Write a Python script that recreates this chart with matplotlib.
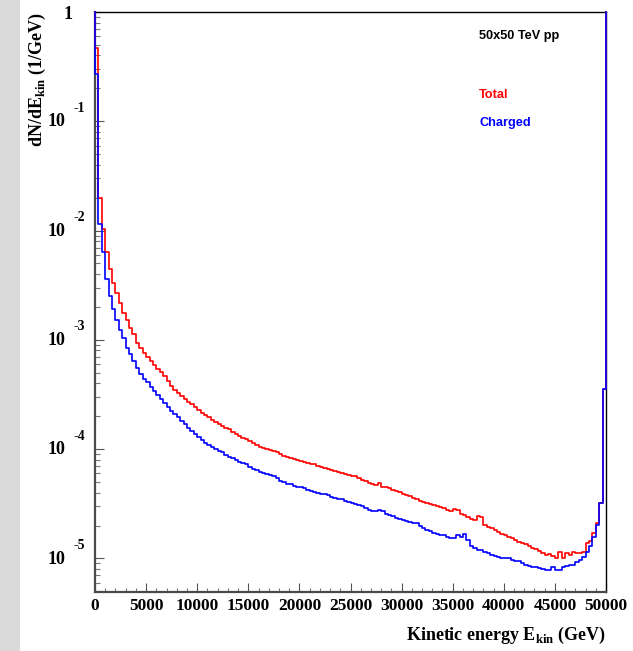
import matplotlib
matplotlib.use("Agg")
import matplotlib.pyplot as plt
import numpy as np
from matplotlib.patches import Rectangle
from matplotlib.ticker import FixedLocator, NullFormatter

plt.rcParams['mathtext.fontset'] = 'custom'
plt.rcParams['mathtext.bf'] = 'Liberation Serif:bold'
plt.rcParams['mathtext.rm'] = 'Liberation Serif:bold'

# 150 bins from 0 to 50000 GeV, values given as log10(dN/dE)
e_min, e_max, n_bins = 0.0, 50000.0, 150
total_log10 = [
    -0.33, -1.70, -1.99, -2.20, -2.35, -2.48, -2.57, -2.66, -2.75, -2.82,
    -2.89, -2.95, -3.03, -3.07, -3.12, -3.16, -3.19, -3.23, -3.27, -3.29,
    -3.33, -3.38, -3.42, -3.46, -3.49, -3.51, -3.54, -3.57, -3.59, -3.61,
    -3.64, -3.67, -3.69, -3.71, -3.73, -3.75, -3.77, -3.79, -3.81, -3.82,
    -3.84, -3.86, -3.88, -3.90, -3.91, -3.93, -3.94, -3.96, -3.98, -3.99,
    -4.00, -4.01, -4.02, -4.03, -4.04, -4.06, -4.07, -4.08, -4.09, -4.10,
    -4.11, -4.12, -4.13, -4.14, -4.14, -4.15, -4.16, -4.17, -4.18, -4.19,
    -4.20, -4.21, -4.22, -4.23, -4.24, -4.25, -4.25, -4.26, -4.28, -4.29,
    -4.31, -4.32, -4.33, -4.31, -4.35, -4.35, -4.36, -4.37, -4.38, -4.39,
    -4.41, -4.42, -4.43, -4.45, -4.46, -4.47, -4.48, -4.49, -4.50, -4.51,
    -4.52, -4.53, -4.54, -4.56, -4.57, -4.55, -4.56, -4.59, -4.60, -4.62,
    -4.64, -4.65, -4.61, -4.62, -4.69, -4.71, -4.72, -4.74, -4.76, -4.78,
    -4.79, -4.80, -4.81, -4.83, -4.85, -4.86, -4.87, -4.89, -4.90, -4.91,
    -4.93, -4.95, -4.97, -4.96, -4.98, -5.00, -4.94, -5.00, -4.95, -4.97,
    -4.94, -4.95, -4.95, -4.94, -4.86, -4.84, -4.77, -4.68, -4.49, -3.45,
]
charged_log10 = [
    -0.57, -1.94, -2.20, -2.44, -2.60, -2.72, -2.82, -2.91, -2.98, -3.07,
    -3.13, -3.19, -3.26, -3.31, -3.36, -3.39, -3.43, -3.47, -3.50, -3.54,
    -3.58, -3.61, -3.65, -3.68, -3.71, -3.74, -3.77, -3.81, -3.83, -3.86,
    -3.89, -3.92, -3.94, -3.96, -3.98, -4.00, -4.02, -4.03, -4.05, -4.07,
    -4.08, -4.10, -4.12, -4.13, -4.14, -4.16, -4.18, -4.19, -4.21, -4.22,
    -4.23, -4.24, -4.25, -4.26, -4.29, -4.30, -4.32, -4.32, -4.34, -4.35,
    -4.35, -4.36, -4.37, -4.38, -4.39, -4.40, -4.41, -4.41, -4.42, -4.44,
    -4.45, -4.46, -4.46, -4.47, -4.48, -4.49, -4.50, -4.51, -4.52, -4.54,
    -4.56, -4.57, -4.57, -4.56, -4.57, -4.59, -4.60, -4.61, -4.63, -4.64,
    -4.65, -4.66, -4.67, -4.68, -4.68, -4.70, -4.72, -4.74, -4.75, -4.77,
    -4.78, -4.79, -4.79, -4.80, -4.81, -4.81, -4.79, -4.80, -4.78, -4.83,
    -4.89, -4.90, -4.92, -4.92, -4.94, -4.95, -4.97, -4.98, -4.99, -5.00,
    -5.00, -5.00, -5.01, -5.02, -5.02, -5.04, -5.06, -5.07, -5.08, -5.08,
    -5.09, -5.10, -5.11, -5.11, -5.08, -5.11, -5.11, -5.08, -5.07, -5.06,
    -5.06, -5.03, -5.01, -4.99, -4.94, -4.89, -4.80, -4.69, -4.49, -3.45,
]
x_ticks = [0, 5000, 10000, 15000, 20000, 25000, 30000, 35000, 40000, 45000, 50000]
y_decades = [-1, -2, -3, -4, -5]
y_lim = (4.93e-6, 1.0)

serif = 'Liberation Serif'
sans = 'Liberation Sans'

fig = plt.figure(figsize=(6.33, 6.51), dpi=100)
fig.patches.append(Rectangle((0, 0), 20 / 633, 1, transform=fig.transFigure,
                             facecolor='#dadada', edgecolor='none', zorder=0))
ax = fig.add_axes([95 / 633, 1 - 592 / 651, 511 / 633, 580 / 651])

edges = np.linspace(e_min, e_max, n_bins + 1)


def outline(logvals):
    # ROOT-like histogram outline, open ends drawn up to the frame top
    vals = 10.0 ** np.asarray(logvals)
    xs = np.repeat(edges, 2)
    ys = np.concatenate([[y_lim[1]], np.repeat(vals, 2), [y_lim[1]]])
    return xs, ys


xs, ys = outline(total_log10)
ax.plot(xs, ys, color='#ff0000', lw=1.2, zorder=3, clip_on=False)
xs, ys = outline(charged_log10)
ax.plot(xs, ys, color='#0000ff', lw=1.2, zorder=3, clip_on=False)

ax.set_yscale('log')
ax.set_xlim(e_min, e_max)
ax.set_ylim(*y_lim)

for side in ('left', 'bottom'):
    ax.spines[side].set_color('#4a4a4a')
    ax.spines[side].set_linewidth(1.6)
for side in ('top', 'right'):
    ax.spines[side].set_color('black')
    ax.spines[side].set_linewidth(1.0)

ax.xaxis.set_major_locator(FixedLocator(x_ticks))
ax.xaxis.set_minor_locator(FixedLocator(np.arange(0, 50001, 1000)))
ax.set_xticklabels([str(t) for t in x_ticks], fontfamily=serif,
                   fontweight='bold', fontsize=12.5)
ax.tick_params(axis='x', which='major', direction='in', length=6.5, width=0.8,
               color='#555555', pad=4, top=False)
ax.tick_params(axis='x', which='minor', direction='in', length=3, width=0.8,
               color='#777777', top=False)

ax.yaxis.set_major_locator(FixedLocator([10.0 ** k for k in range(-5, 1)]))
ax.yaxis.set_minor_locator(FixedLocator(
    [m * 10.0 ** k for k in range(-6, 0) for m in range(2, 10)]))
ax.yaxis.set_major_formatter(NullFormatter())
ax.yaxis.set_minor_formatter(NullFormatter())
ax.tick_params(axis='y', which='major', direction='in', length=6.5, width=0.8,
               color='#555555', right=False)
ax.tick_params(axis='y', which='minor', direction='in', length=3.5, width=0.8,
               color='#777777', right=False)

# ROOT style decade labels
for k in y_decades:
    ax.annotate('10', xy=(0, 10.0 ** k), xycoords=('axes fraction', 'data'),
                xytext=(-21.6, -0.5), textcoords='offset points',
                ha='right', va='center', fontfamily=serif, fontweight='bold',
                fontsize=13)
    ax.annotate('%d' % k, xy=(0, 10.0 ** k), xycoords=('axes fraction', 'data'),
                xytext=(-15.8, 9.4), textcoords='offset points',
                ha='left', va='center', fontfamily=serif, fontweight='bold',
                fontsize=10)
ax.annotate('1', xy=(0, 1.0), xycoords=('axes fraction', 'data'),
            xytext=(-16.5, -1.5), textcoords='offset points',
            ha='right', va='center', fontfamily=serif, fontweight='bold',
            fontsize=13)

fig.text(37 / 633, 1 - 12 / 651, r'dN/dE$_{\mathbf{kin}}$ (1/GeV)', rotation=90,
         ha='center', va='top', fontfamily=serif, fontweight='bold', fontsize=13)
fig.text(606 / 633, 1 - 640 / 651, r'Kinetic energy E$_{\mathbf{kin}}$ (GeV)',
         ha='right', va='baseline', fontfamily=serif, fontweight='bold',
         fontsize=13)

fig.text(479 / 633, 1 - 36 / 651, '50x50 TeV pp', ha='left', va='center',
         fontfamily=sans, fontweight='bold', fontsize=9.2, color='black')
fig.text(479 / 633, 1 - 95 / 651, 'Total', ha='left', va='center',
         fontfamily=sans, fontweight='bold', fontsize=9.2, color='#ff0000')
fig.text(479 / 633, 1 - 123 / 651, 'Charged', ha='left', va='center',
         fontfamily=sans, fontweight='bold', fontsize=9.2, color='#0000ff')

fig.savefig('out.png', dpi=100)
